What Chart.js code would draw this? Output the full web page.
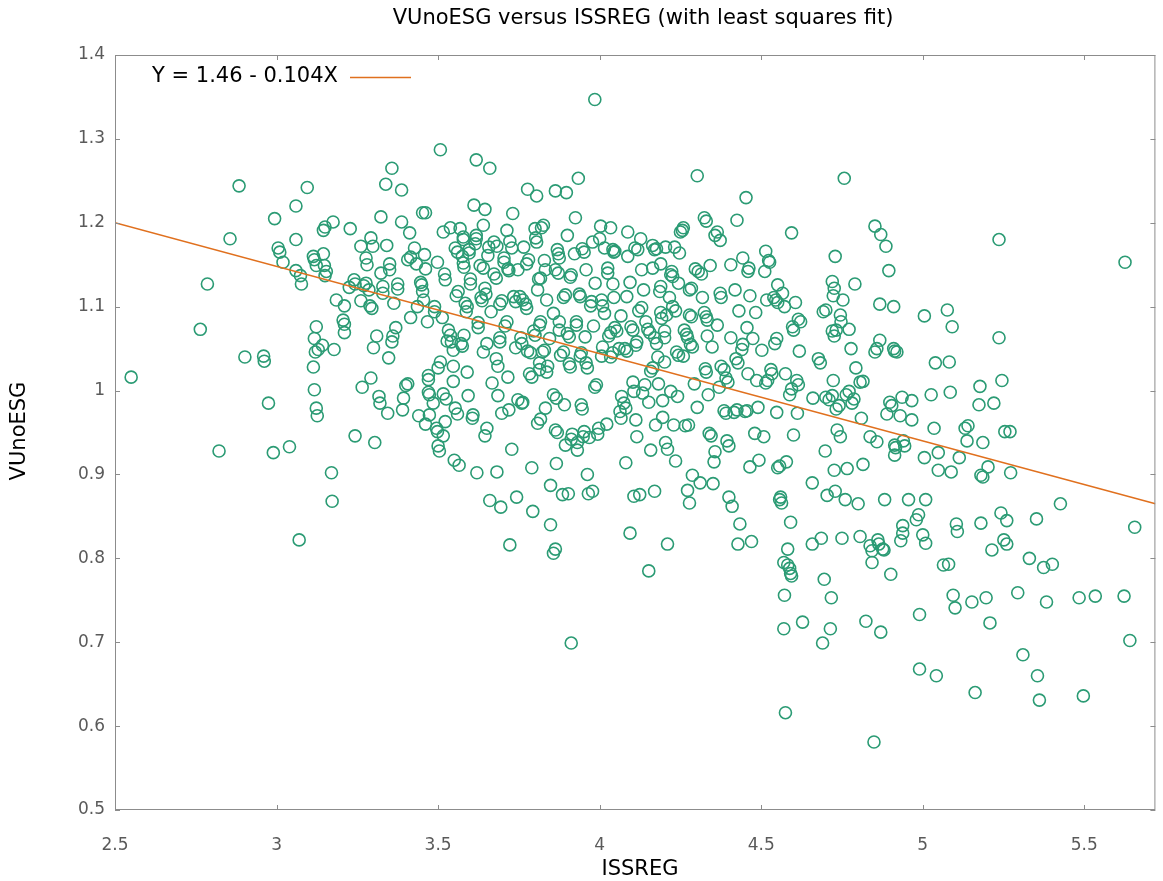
<!DOCTYPE html>
<html>
<head>
<meta charset="utf-8">
<title>VUnoESG versus ISSREG</title>
<script src="https://cdn.jsdelivr.net/npm/chart.js@4.4.1/dist/chart.umd.min.js"></script>
<style>
  html, body { margin: 0; padding: 0; background: #fff; }
</style>
</head>
<body>
<canvas id="scatter" width="1163" height="881"></canvas>
<script>
// observations: ISSREG (x) and VUnoESG (y), same order in both arrays
const issreg = [
  2.55, 2.764, 2.786, 2.884, 2.856, 2.822, 2.902, 2.96, 2.962, 2.975,
  2.99, 2.994, 3.005, 3.01, 3.02, 3.04, 3.06, 3.06, 3.07, 3.06,
  3.074, 3.077, 3.095, 3.117, 3.123, 3.114, 3.117, 3.12, 3.129, 3.123,
  3.114, 3.117, 3.123, 3.126, 3.145, 3.15, 3.145, 3.142, 3.148, 3.154,
  3.15, 3.17, 3.172, 3.175, 3.178, 3.185, 3.206, 3.21, 3.21, 3.21,
  3.225, 3.228, 3.24, 3.243, 3.243, 3.261, 3.261, 3.265, 3.27, 3.277,
  3.277, 3.28, 3.286, 3.289, 3.295, 3.292, 3.298, 3.292, 3.3, 3.304,
  3.31, 3.317, 3.32, 3.323, 3.323, 3.329, 3.329, 3.338, 3.341, 3.344,
  3.347, 3.35, 3.35, 3.357, 3.357, 3.36, 3.363, 3.369, 3.375, 3.375,
  3.387, 3.387, 3.39, 3.393, 3.4, 3.406, 3.406, 3.415, 3.412, 3.415,
  3.427, 3.433, 3.436, 3.44, 3.446, 3.449, 3.452, 3.452, 3.455, 3.461,
  3.461, 3.458, 3.467, 3.47, 3.47, 3.473, 3.47, 3.473, 3.461, 3.485,
  3.489, 3.489, 3.495, 3.498, 3.5, 3.504, 3.498, 3.5, 3.507, 3.507,
  3.513, 3.516, 3.52, 3.522, 3.522, 3.516, 3.525, 3.516, 3.528, 3.532,
  3.538, 3.538, 3.541, 3.547, 3.547, 3.547, 3.55, 3.553, 3.56, 3.553,
  3.56, 3.562, 3.556, 3.565, 3.568, 3.571, 3.575, 3.575, 3.578, 3.58,
  3.578, 3.578, 3.58, 3.584, 3.59, 3.587, 3.59, 3.593, 3.596, 3.596,
  3.6, 3.6, 3.608, 3.606, 3.611, 3.618, 3.618, 3.618, 3.615, 3.62,
  3.624, 3.624, 3.63, 3.64, 3.633, 3.636, 3.64, 3.64, 3.645, 3.645,
  3.648, 3.651, 3.651, 3.645, 3.654, 3.657, 3.66, 3.66, 3.664, 3.667,
  3.673, 3.68, 3.673, 3.682, 3.68, 3.685, 3.682, 3.685, 3.691, 3.697,
  3.691, 3.691, 3.694, 3.697, 3.704, 3.704, 3.707, 3.713, 3.713, 3.716,
  3.719, 3.716, 3.719, 3.722, 3.728, 3.722, 3.728, 3.731, 3.734, 3.74,
  3.74, 3.743, 3.747, 3.747, 3.753, 3.762, 3.756, 3.759, 3.759, 3.762,
  3.765, 3.771, 3.774, 3.774, 3.78, 3.777, 3.786, 3.777, 3.783, 3.79,
  3.79, 3.793, 3.796, 3.8, 3.8, 3.802, 3.805, 3.805, 3.808, 3.811,
  3.817, 3.814, 3.817, 3.814, 3.814, 3.817, 3.808, 3.82, 3.826, 3.823,
  3.829, 3.829, 3.832, 3.832, 3.836, 3.839, 3.836, 3.845, 3.848, 3.848,
  3.857, 3.863, 3.857, 3.857, 3.866, 3.863, 3.869, 3.863, 3.872, 3.863,
  3.866, 3.869, 3.872, 3.875, 3.875, 3.875, 3.879, 3.888, 3.885, 3.888,
  3.894, 3.891, 3.894, 3.897, 3.9, 3.9, 3.906, 3.906, 3.909, 3.903,
  3.909, 3.912, 3.912, 3.912, 3.915, 3.922, 3.925, 3.928, 3.928, 3.931,
  3.931, 3.934, 3.937, 3.94, 3.94, 3.943, 3.943, 3.946, 3.946, 3.952,
  3.949, 3.952, 3.955, 3.958, 3.958, 3.962, 3.962, 3.965, 3.968, 3.972,
  3.975, 3.978, 3.978, 3.981, 3.985, 3.985, 3.99, 3.986, 3.994, 3.997,
  4.0, 4.003, 4.006, 4.009, 4.006, 4.009, 4.015, 4.015, 4.022, 4.025,
  4.025, 4.028, 4.034, 4.034, 4.034, 4.04, 4.041, 4.041, 4.044, 4.047,
  4.044, 4.047, 4.053, 4.06, 4.063, 4.066, 4.066, 4.068, 4.075, 4.081,
  4.078, 4.084, 4.081, 4.084, 4.087, 4.087, 4.094, 4.094, 4.097, 4.103,
  4.103, 4.106, 4.106, 4.109, 4.118, 4.112, 4.115, 4.112, 4.115, 4.121,
  4.13, 4.124, 4.127, 4.13, 4.133, 4.136, 4.14, 4.143, 4.149, 4.155,
  4.152, 4.152, 4.158, 4.158, 4.164, 4.164, 4.17, 4.176, 4.164, 4.17,
  4.17, 4.176, 4.173, 4.18, 4.182, 4.186, 4.189, 4.189, 4.192, 4.189,
  4.195, 4.195, 4.201, 4.201, 4.201, 4.204, 4.204, 4.21, 4.207, 4.21,
  4.216, 4.22, 4.223, 4.226, 4.22, 4.226, 4.235, 4.229, 4.232, 4.235,
  4.238, 4.244, 4.241, 4.244, 4.247, 4.25, 4.256, 4.259, 4.259, 4.262,
  4.269, 4.272, 4.265, 4.275, 4.272, 4.278, 4.278, 4.284, 4.278, 4.284,
  4.281, 4.287, 4.287, 4.293, 4.296, 4.302, 4.302, 4.305, 4.315, 4.311,
  4.318, 4.324, 4.33, 4.324, 4.33, 4.333, 4.327, 4.33, 4.333, 4.336,
  4.339, 4.345, 4.342, 4.348, 4.351, 4.354, 4.357, 4.357, 4.364, 4.364,
  4.37, 4.373, 4.376, 4.373, 4.376, 4.385, 4.385, 4.391, 4.391, 4.397,
  4.394, 4.4, 4.4, 4.406, 4.406, 4.41, 4.416, 4.425, 4.419, 4.422,
  4.428, 4.425, 4.428, 4.431, 4.434, 4.44, 4.443, 4.443, 4.45, 4.456,
  4.453, 4.456, 4.459, 4.462, 4.459, 4.465, 4.465, 4.47, 4.474, 4.48,
  4.483, 4.486, 4.49, 4.493, 4.502, 4.508, 4.511, 4.514, 4.514, 4.52,
  4.517, 4.523, 4.526, 4.53, 4.533, 4.539, 4.545, 4.551, 4.542, 4.548,
  4.548, 4.551, 4.551, 4.557, 4.56, 4.557, 4.563, 4.566, 4.57, 4.57,
  4.572, 4.572, 4.575, 4.575, 4.578, 4.582, 4.588, 4.591, 4.594, 4.582,
  4.588, 4.594, 4.591, 4.594, 4.597, 4.6, 4.6, 4.606, 4.61, 4.615,
  4.612, 4.615, 4.622, 4.618, 4.628, 4.658, 4.658, 4.66, 4.677, 4.683,
  4.686, 4.69, 4.695, 4.692, 4.7, 4.698, 4.7, 4.71, 4.72, 4.704,
  4.714, 4.717, 4.72, 4.726, 4.723, 4.72, 4.726, 4.732, 4.723, 4.729,
  4.726, 4.729, 4.732, 4.741, 4.735, 4.745, 4.745, 4.747, 4.75, 4.753,
  4.757, 4.763, 4.772, 4.76, 4.766, 4.772, 4.778, 4.781, 4.787, 4.79,
  4.793, 4.8, 4.806, 4.806, 4.815, 4.81, 4.815, 4.824, 4.837, 4.843,
  4.837, 4.843, 4.849, 4.852, 4.852, 4.858, 4.858, 4.861, 4.864, 4.867,
  4.867, 4.87, 4.87, 4.876, 4.88, 4.886, 4.882, 4.889, 4.895, 4.898,
  4.904, 4.901, 4.91, 4.913, 4.92, 4.91, 4.913, 4.913, 4.916, 4.93,
  4.936, 4.932, 4.938, 4.938, 4.94, 4.944, 4.956, 4.966, 4.966, 4.98,
  4.987, 4.99, 4.99, 5.0, 5.009, 5.005, 5.005, 5.009, 5.026, 5.035,
  5.039, 5.042, 5.048, 5.048, 5.064, 5.076, 5.08, 5.082, 5.085, 5.088,
  5.091, 5.094, 5.1, 5.104, 5.107, 5.113, 5.131, 5.14, 5.137, 5.152,
  5.162, 5.174, 5.177, 5.18, 5.186, 5.18, 5.186, 5.196, 5.202, 5.208,
  5.214, 5.22, 5.236, 5.236, 5.242, 5.245, 5.251, 5.26, 5.254, 5.27,
  5.26, 5.272, 5.294, 5.31, 5.33, 5.352, 5.355, 5.361, 5.374, 5.383,
  5.401, 5.426, 5.484, 5.497, 5.534, 5.623, 5.626, 5.641, 5.656
];
const vunoesg = [
  1.016, 1.073, 1.127, 1.244, 1.181, 0.928, 1.04, 1.041, 1.035, 0.985,
  0.926, 1.205, 1.17, 1.165, 1.153, 0.933, 1.18, 1.22, 0.822, 1.143,
  1.137, 1.127, 1.242, 1.156, 1.149, 1.16, 1.062, 1.046, 1.049, 1.076,
  1.028, 1.001, 0.979, 0.97, 1.163, 1.195, 1.191, 1.054, 1.149, 1.142,
  1.137, 0.902, 0.868, 1.201, 1.049, 1.108, 1.084, 1.079, 1.069, 1.101,
  1.123, 1.193, 1.132, 1.127, 0.946, 1.172, 1.107, 1.004, 1.125, 1.128,
  1.158, 1.15, 1.12, 1.101, 1.098, 1.015, 1.172, 1.182, 1.051, 0.938,
  1.065, 0.993, 0.985, 1.207, 1.14, 1.116, 1.124, 1.246, 1.173, 0.973,
  1.039, 1.144, 1.151, 1.265, 1.058, 1.065, 1.104, 1.075, 1.127, 1.121,
  1.239, 1.201, 0.977, 0.991, 1.006, 1.008, 1.156, 1.159, 1.188, 1.087,
  1.17, 1.151, 1.1, 0.97, 1.129, 1.126, 1.212, 1.118, 1.108, 1.212,
  1.145, 1.162, 1.082, 1.018, 1.013, 0.995, 0.998, 0.971, 0.96, 0.985,
  1.1, 1.094, 0.955, 0.951, 0.934, 0.928, 1.153, 1.027, 1.034, 1.287,
  1.087, 1.189, 1.139, 1.132, 0.963, 0.946, 0.99, 0.996, 1.059, 1.072,
  1.066, 1.194, 1.058, 1.048, 1.029, 1.011, 0.917, 1.17, 1.165, 0.979,
  0.972, 1.118, 1.113, 0.911, 1.193, 1.056, 1.053, 1.16, 1.152, 1.147,
  1.183, 1.18, 1.066, 1.104, 1.1, 1.094, 1.022, 0.994, 1.168, 1.164,
  1.133, 1.127, 0.971, 0.967, 1.221, 1.275, 1.185, 1.181, 1.175, 0.902,
  1.081, 1.075, 1.149, 1.146, 1.111, 1.107, 1.197, 1.046, 1.216, 1.122,
  1.115, 1.056, 0.955, 0.946, 1.161, 1.171, 1.265, 0.869, 1.094, 1.009,
  1.139, 1.134, 1.177, 1.172, 1.038, 1.029, 0.903, 0.994, 1.103, 1.107,
  1.063, 1.058, 0.861, 0.973, 1.153, 1.158, 1.077, 1.082, 1.191, 1.145,
  1.143, 1.016, 0.977, 1.178, 1.17, 0.816, 0.93, 1.211, 1.112, 1.106,
  1.051, 0.873, 1.144, 0.989, 1.112, 1.108, 1.063, 1.056, 0.985, 0.986,
  1.171, 1.103, 1.098, 1.151, 1.156, 1.047, 1.045, 1.24, 1.02, 1.016,
  0.908, 0.856, 1.071, 1.066, 1.193, 1.182, 1.177, 1.232, 1.12, 1.133,
  1.134, 1.078, 1.082, 1.033, 1.025, 0.966, 0.961, 1.194, 1.197, 1.046,
  1.048, 1.155, 1.144, 0.979, 1.108, 1.029, 1.022, 1.062, 0.887, 0.84,
  0.806, 0.811, 1.092, 0.995, 0.991, 0.953, 0.95, 1.144, 1.14, 1.238,
  0.913, 1.168, 1.163, 1.158, 1.082, 1.072, 1.042, 1.046, 0.876, 1.111,
  1.114, 0.983, 0.935, 1.236, 1.185, 1.068, 1.064, 1.032, 1.028, 0.877,
  1.135, 1.138, 0.699, 0.942, 0.948, 1.163, 1.206, 1.078, 1.082, 0.938,
  0.929, 1.253, 1.115, 1.112, 1.041, 1.045, 0.983, 0.978, 1.169, 1.165,
  0.945, 0.951, 1.064, 1.144, 1.033, 1.027, 0.9, 0.877, 0.944, 1.101,
  1.106, 1.177, 0.88, 1.077, 1.347, 1.004, 1.007, 1.128, 0.948, 0.955,
  1.181, 1.196, 1.108, 1.101, 1.041, 1.052, 1.17, 1.092, 0.96, 1.146,
  1.14, 1.065, 1.069, 1.194, 1.04, 1.045, 1.127, 1.168, 1.165, 1.166,
  1.111, 1.075, 1.071, 1.05, 0.975, 0.967, 1.089, 0.993, 0.985, 0.979,
  1.05, 1.047, 0.914, 1.112, 1.189, 1.16, 0.83, 1.129, 1.076, 1.072,
  1.01, 0.999, 0.874, 1.17, 1.168, 1.054, 1.058, 0.965, 0.945, 1.095,
  1.099, 0.876, 1.181, 1.144, 0.997, 1.12, 1.007, 1.082, 1.073, 1.069,
  0.785, 0.986, 0.929, 1.023, 1.027, 1.173, 1.168, 1.169, 1.146, 0.88,
  1.063, 1.056, 0.959, 1.04, 1.008, 1.118, 1.124, 1.093, 1.086, 1.151,
  0.968, 0.988, 1.063, 1.071, 1.034, 1.171, 0.938, 0.93, 1.09, 0.817,
  1.111, 1.138, 1.142, 1.136, 0.999, 1.1, 1.095, 0.959, 1.171, 0.916,
  1.046, 1.042, 0.993, 1.128, 1.164, 1.189, 1.191, 1.194, 1.041, 1.072,
  1.067, 1.063, 0.958, 0.959, 0.881, 0.866, 1.12, 1.122, 1.09, 1.088,
  1.055, 1.052, 0.899, 1.008, 1.145, 1.256, 0.98, 1.142, 1.139, 0.89,
  1.111, 1.206, 1.202, 1.093, 1.088, 1.084, 1.026, 1.022, 1.065, 0.995,
  0.949, 0.946, 1.149, 1.052, 0.889, 0.915, 0.927, 1.185, 1.189, 1.078,
  1.004, 1.116, 1.111, 1.179, 1.029, 1.025, 0.976, 0.973, 1.015, 1.01,
  0.94, 0.934, 0.873, 1.15, 1.063, 0.862, 0.974, 0.977, 1.12, 1.038,
  1.033, 1.203, 0.817, 1.095, 0.841, 1.049, 1.055, 1.158, 0.975, 0.976,
  1.23, 1.075, 1.02, 1.146, 1.142, 0.909, 1.113, 0.82, 1.062, 0.949,
  1.093, 1.012, 0.98, 0.917, 1.048, 0.945, 1.142, 1.166, 1.009, 1.012,
  1.108, 1.155, 1.153, 1.025, 1.02, 1.111, 1.108, 1.105, 1.056, 1.062,
  0.974, 1.126, 0.908, 0.91, 0.873, 0.87, 0.866, 1.116, 0.795, 0.716,
  0.756, 1.1, 0.616, 1.02, 0.915, 0.792, 0.788, 0.782, 0.779, 0.811,
  0.995, 1.002, 0.843, 1.188, 1.076, 1.072, 0.947, 1.105, 1.012, 1.007,
  0.973, 1.085, 1.082, 1.047, 0.724, 0.89, 0.817, 0.991, 1.038, 1.033,
  0.824, 0.699, 0.775, 1.094, 1.096, 0.928, 0.992, 0.989, 0.994, 0.875,
  0.716, 0.753, 1.13, 1.122, 1.113, 1.071, 1.065, 1.072, 1.012, 1.16,
  0.905, 0.88, 0.978, 0.982, 0.953, 0.945, 1.09, 1.082, 0.824, 1.108,
  1.253, 0.995, 0.999, 0.87, 0.907, 1.073, 1.05, 0.985, 0.99, 1.127,
  1.027, 0.865, 0.826, 1.01, 1.011, 0.967, 0.912, 0.725, 0.815, 0.809,
  0.945, 0.795, 0.581, 1.196, 1.046, 1.05, 0.939, 0.822, 0.817, 1.103,
  1.06, 1.186, 0.712, 0.811, 0.81, 1.172, 0.87, 0.972, 1.143, 0.986,
  0.982, 0.781, 1.05, 1.047, 1.046, 1.1, 0.935, 0.923, 0.932, 0.97,
  0.992, 0.821, 0.83, 0.839, 0.94, 0.934, 0.87, 0.988, 0.965, 0.846,
  0.852, 0.733, 0.668, 0.828, 0.818, 0.92, 1.089, 0.87, 0.995, 0.955,
  1.033, 0.66, 0.926, 0.905, 0.792, 1.096, 0.793, 1.034, 0.998, 0.903,
  1.076, 0.756, 0.741, 0.841, 0.832, 0.92, 0.955, 0.958, 0.94, 0.748,
  0.64, 0.983, 1.005, 0.899, 0.897, 0.842, 0.938, 0.753, 0.909, 0.723,
  0.81, 0.985, 1.18, 1.063, 0.854, 1.012, 0.822, 0.817, 0.951, 0.951,
  0.845, 0.902, 0.759, 0.685, 0.8, 0.847, 0.66, 0.631, 0.789, 0.748,
  0.793, 0.865, 0.753, 0.636, 0.755, 0.755, 1.153, 0.702, 0.837
];

// least squares fit Y = a + bX
const fitIntercept = 1.46;
const fitSlope = -0.104;
const fitLabel = 'Y = 1.46 - 0.104X';

const xTicks = [2.5, 3, 3.5, 4, 4.5, 5, 5.5];
const yTicks = [0.5, 0.6, 0.7, 0.8, 0.9, 1, 1.1, 1.2, 1.3, 1.4];
const xRange = [2.5, 5.72];
const yRange = [0.5, 1.4];

const pointColor = '#2b9b74';
const lineColor = '#e0701e';
const labelFont = '21px "DejaVu Sans"';
const tickFontCss = '17px "DejaVu Sans"';

const points = issreg.map((x, i) => ({ x: x, y: vunoesg[i] }));
const fitLine = xRange.map(x => ({ x: x, y: fitIntercept + fitSlope * x }));

// frame, inward tick marks, tick labels, titles and the key
const decorations = {
  id: 'decorations',
  afterDraw(chart) {
    const ctx = chart.ctx;
    const a = chart.chartArea;
    const xs = chart.scales.x, ys = chart.scales.y;
    ctx.save();
    ctx.strokeStyle = '#8c8c8c';
    ctx.lineWidth = 1;
    ctx.strokeRect(a.left + 0.5, a.top + 0.5, a.right - a.left - 1, a.bottom - a.top - 1);
    ctx.beginPath();
    xTicks.forEach(v => {
      const px = Math.round(xs.getPixelForValue(v)) + 0.5;
      ctx.moveTo(px, a.bottom); ctx.lineTo(px, a.bottom - 5);
      ctx.moveTo(px, a.top); ctx.lineTo(px, a.top + 5);
    });
    yTicks.forEach(v => {
      const py = Math.round(ys.getPixelForValue(v)) + 0.5;
      ctx.moveTo(a.left, py); ctx.lineTo(a.left + 5, py);
      ctx.moveTo(a.right, py); ctx.lineTo(a.right - 5, py);
    });
    ctx.stroke();

    // tick labels
    ctx.fillStyle = '#5a5a5a';
    ctx.font = tickFontCss;
    ctx.textBaseline = 'middle';
    ctx.textAlign = 'center';
    xTicks.forEach(v => ctx.fillText(String(v), xs.getPixelForValue(v), a.bottom + 36));
    ctx.textAlign = 'right';
    yTicks.forEach(v => ctx.fillText(String(v), a.left - 10, ys.getPixelForValue(v)));

    // titles
    ctx.fillStyle = '#000';
    ctx.font = labelFont;
    ctx.textAlign = 'center';
    ctx.fillText('VUnoESG versus ISSREG (with least squares fit)', 643, 19);
    ctx.fillText('ISSREG', 640, 870);
    ctx.save();
    ctx.translate(20, 431);
    ctx.rotate(-Math.PI / 2);
    ctx.fillText('VUnoESG', 0, 0);
    ctx.restore();

    // key
    ctx.textAlign = 'left';
    ctx.fillText(fitLabel, 152, 77);
    ctx.strokeStyle = lineColor;
    ctx.lineWidth = 1.5;
    ctx.beginPath();
    ctx.moveTo(350, 77.5); ctx.lineTo(411, 77.5);
    ctx.stroke();
    ctx.restore();
  }
};

new Chart(document.getElementById('scatter'), {
  type: 'scatter',
  data: {
    datasets: [
      {
        type: 'line',
        data: fitLine,
        borderColor: lineColor,
        borderWidth: 1.5,
        pointRadius: 0,
        fill: false,
        order: 0
      },
      {
        data: points,
        pointStyle: 'circle',
        pointRadius: 6,
        pointHoverRadius: 6,
        borderColor: pointColor,
        borderWidth: 1.6,
        backgroundColor: 'rgba(0,0,0,0)',
        order: 1
      }
    ]
  },
  options: {
    responsive: false,
    animation: false,
    devicePixelRatio: 1,
    layout: { padding: { top: 55, right: 1, left: 0, bottom: 0 } },
    plugins: { legend: { display: false }, tooltip: { enabled: false } },
    scales: {
      x: {
        type: 'linear',
        min: xRange[0],
        max: xRange[1],
        afterBuildTicks: s => { s.ticks = xTicks.map(v => ({ value: v })); },
        afterFit: s => { s.height = 71; },
        grid: { display: false },
        border: { display: false },
        ticks: { display: false }
      },
      y: {
        type: 'linear',
        min: yRange[0],
        max: yRange[1],
        afterBuildTicks: s => { s.ticks = yTicks.map(v => ({ value: v })); },
        afterFit: s => { s.width = 115; },
        grid: { display: false },
        border: { display: false },
        ticks: { display: false }
      }
    }
  },
  plugins: [decorations]
});
</script>
</body>
</html>
